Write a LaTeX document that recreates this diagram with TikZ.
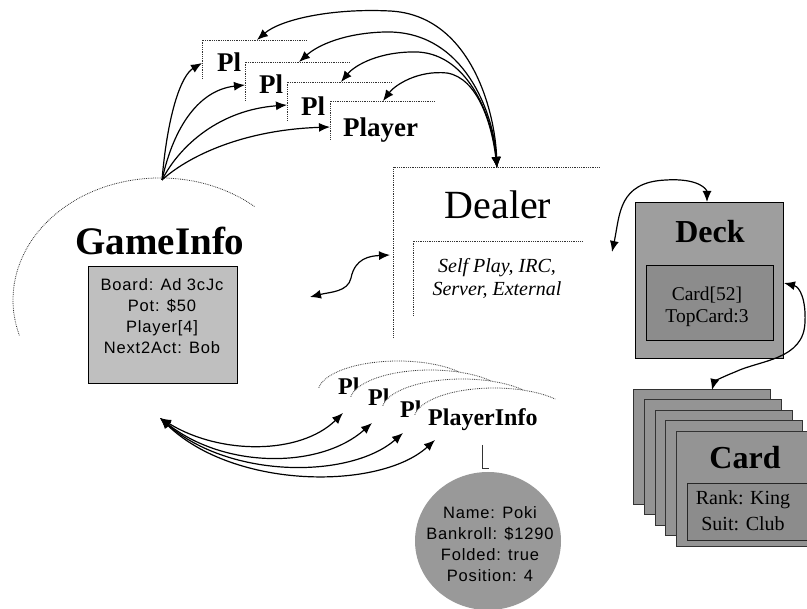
\documentclass[tikz,border=0pt]{standalone}
\usepackage{fontspec}
\setmainfont{Liberation Serif}
\newfontfamily\boxsans[LetterSpace=5]{Liberation Sans}
\usetikzlibrary{arrows.meta,shapes.geometric}

\begin{document}
\begin{tikzpicture}[x=1pt,y=-1pt,
  link/.style={line width=1.2pt,{Latex[length=11pt,width=9pt]}-{Latex[length=11pt,width=9pt]}},
  oneway/.style={line width=1.2pt,-{Latex[length=11pt,width=9pt]}},
  faint/.style={densely dotted,line width=0.8pt,black!80},
  blank/.style={draw=none,fill=white,inner sep=0pt,anchor=north west},
  plabel/.style={inner sep=0pt,anchor=base west,font=\bfseries\fontsize{27}{30}\selectfont},
  pilabel/.style={inner sep=0pt,anchor=base west,font=\bfseries\fontsize{24}{26}\selectfont},
  bigbold/.style={inner sep=0pt,anchor=base,font=\bfseries\fontsize{#1}{#1}\selectfont},
  graybox/.style={draw=black,line width=1.3pt,fill=black!#1,inner sep=0pt,anchor=north west},
  sanslines/.style={inner sep=0pt,align=center,font=\boxsans\fontsize{16.5}{21}\selectfont},
  pinfo/.style={ellipse,draw=none,fill=white,inner sep=0pt,minimum width=160pt,minimum height=62pt},
  cardface/.style={draw=black!80,line width=1pt,fill=black!42,inner sep=0pt,anchor=north west,
                   minimum width=137pt,minimum height=115pt}
]
\clip (0,0) rectangle (807,609);
\fill[white] (0,0) rectangle (807,609);

% ---------- GameInfo ----------
\draw[faint] (254.5,206.5) arc[start angle=50,end angle=197,x radius=147pt,y radius=122pt];
\coordinate (gtop) at (162,180);
\coordinate (gbot) at (160,418);
\node[bigbold=39] (gameinfo) at (160,255) {GameInfo};
\node[graybox=25,minimum width=149pt,minimum height=117pt] (gibox) at (88,266) {};
\node[sanslines] (gitext) at (162,316) {Board: Ad 3cJc\\Pot: \$50\\Player[4]\\Next2Act: Bob};

% ---------- stacked Player boxes ----------
\foreach \i/\x/\y in {1/202/40,2/245/62,3/287/82,4/330/101}{
  \node[blank,minimum width=105pt,minimum height=38pt] (pbox\i) at (\x,\y) {};
  \draw[faint] (pbox\i.south west) -- (pbox\i.north west) -- (pbox\i.north east);
}
\node[plabel] (pl1) at (217,72) {Pl};
\node[plabel] (pl2) at (259,94) {Pl};
\node[plabel] (pl3) at (301,116) {Pl};
\node[plabel] (player) at (343,137) {Player};

% ---------- Dealer ----------
\node[draw=none,inner sep=0pt,anchor=north west,minimum width=207pt,minimum height=170pt] (dealer) at (393,167) {};
\draw[faint] (dealer.south west) -- (dealer.north west) -- (dealer.north east);
\node[inner sep=0pt,anchor=base,font=\fontsize{40}{40}\selectfont] (dealername) at (498,218.5) {Dealer};
\node[draw=none,inner sep=0pt,anchor=north west,minimum width=169pt,minimum height=74pt] (modes) at (413,241) {};
\draw[faint] (modes.south west) -- (modes.north west) -- (modes.north east);
\node[inner sep=0pt,align=center,font=\itshape\fontsize{20}{23}\selectfont] (modetext) at (497,278) {Self Play, IRC,\\Server, External};
\coordinate (dtop) at (497,168);

% ---------- Deck ----------
\node[graybox=38,minimum width=148pt,minimum height=156pt] (deck) at (635,202) {};
\node[bigbold=32] (decklabel) at (710,243) {Deck};
\node[graybox=45,minimum width=127pt,minimum height=75pt] (deckin) at (646,265) {};
\node[inner sep=0pt,align=center,font=\fontsize{19.5}{22}\selectfont] (decktext) at (707,307) {Card[52]\\TopCard:3};

% ---------- Card stack ----------
\foreach \i in {0,...,4}{
  \node[cardface] (card\i) at ({633+10.75*\i},{389+10.5*\i}) {};
}
\node[bigbold=32] (cardlabel) at (745,469) {Card};
\node[draw=black!85,line width=1pt,fill=black!45,inner sep=0pt,anchor=north west,
      minimum width=125pt,minimum height=57pt] (cardin) at (687,483) {};
\node[inner sep=0pt,align=center,font=\fontsize{20}{26}\selectfont] (cardtext) at (743,511) {Rank: King\\Suit: Club};

% ---------- PlayerInfo ----------
\node[pinfo] (pi1) at (398,392) {};
\node[pilabel] (pil1) at (338,395) {Pl};
\node[pinfo] (pi2) at (430,401) {};
\node[pilabel] (pil2) at (368,406) {Pl};
\node[pinfo] (pi3) at (462,410) {};
\node[pilabel] (pil3) at (400,418) {Pl};
\node[pinfo] (pi4) at (494,419) {};
\node[pilabel] (playerinfo) at (428,426) {PlayerInfo};
\foreach \i in {1,...,4}{
  \draw[faint] ([shift={(-79.2,-4.3)}]pi\i.center) arc[start angle=172,end angle=40,x radius=80pt,y radius=31pt];
}
\node[ellipse,draw=none,fill=black!40,inner sep=0pt,minimum width=146pt,minimum height=138pt] (stats) at (488,541) {};
\node[sanslines] (statstext) at (490,544) {Name: Poki\\Bankroll: \$1290\\Folded: true\\Position: 4};
\coordinate (stem) at (482,445);
\coordinate (foot) at (482,468);
\draw[line width=0.8pt,black!80] (stem) -- (foot) -- ++(7,0);

% ---------- connectors ----------
% GameInfo to the Player boxes
\coordinate (g1) at (202,63);
\coordinate (g2) at (245,85);
\coordinate (g3) at (287,105);
\coordinate (g4) at (330,127);
\draw[oneway] (gtop) .. controls (168,110) and (182,75) .. (g1);
\draw[oneway] (gtop) .. controls (174,125) and (200,90) .. (g2);
\draw[oneway] (gtop) .. controls (180,145) and (220,110) .. (g3);
\draw[oneway] (gtop) .. controls (186,158) and (240,130) .. (g4);

% Dealer to the Player boxes
\coordinate (d1) at (257,40);
\coordinate (d2) at (299,62);
\coordinate (d3) at (341,82);
\coordinate (d4) at (383,101);
\coordinate (k1) at (390,11);
\coordinate (k2) at (385,32);
\coordinate (k3) at (418,52);
\coordinate (k4) at (447,73);
\draw[link] (dtop) .. controls (495,110) and (470,15) .. (k1) .. controls (330,8) and (280,20) .. (d1);
\draw[link] (dtop) .. controls (494,115) and (465,30) .. (k2) .. controls (345,33) and (318,45) .. (d2);
\draw[link] (dtop) .. controls (493,120) and (470,55) .. (k3) .. controls (380,51) and (355,65) .. (d3);
\draw[link] (dtop) .. controls (492,125) and (478,78) .. (k4) .. controls (418,70) and (395,85) .. (d4);

% GameInfo and Dealer
\coordinate (gd1) at (310,297);
\coordinate (gd2) at (390,255);
\coordinate (gdm) at (351,278);
\draw[link] (gd1) .. controls (330,292) and (348,292) .. (gdm) .. controls (355,258) and (370,256) .. (gd2);

% Dealer and Deck
\coordinate (dd1) at (612,252);
\coordinate (dd2) at (707,202);
\coordinate (ddm) at (666,180);
\draw[link] (dd1) .. controls (620,215) and (618,182) .. (ddm) .. controls (700,178) and (707,190) .. (dd2);

% Deck and Card
\coordinate (dc1) at (784,283);
\coordinate (dcm) at (805,322);
\coordinate (dc2) at (712,390);
\draw[link] (dc1) .. controls (800,287) and (806,300) .. (dcm) .. controls (804,360) and (760,360) .. (735,372) .. controls (722,377) and (714,382) .. (dc2);

% GameInfo and the PlayerInfo records
\coordinate (q1) at (343,413);
\coordinate (q2) at (372,423);
\coordinate (q3) at (403,433);
\coordinate (q4) at (435,440);
\draw[link] (gbot) .. controls (220,455) and (300,455) .. (q1);
\draw[link] (gbot) .. controls (225,469) and (320,469) .. (q2);
\draw[link] (gbot) .. controls (230,479) and (350,479) .. (q3);
\draw[link] (gbot) .. controls (235,490) and (380,490) .. (q4);
\end{tikzpicture}
\end{document}
